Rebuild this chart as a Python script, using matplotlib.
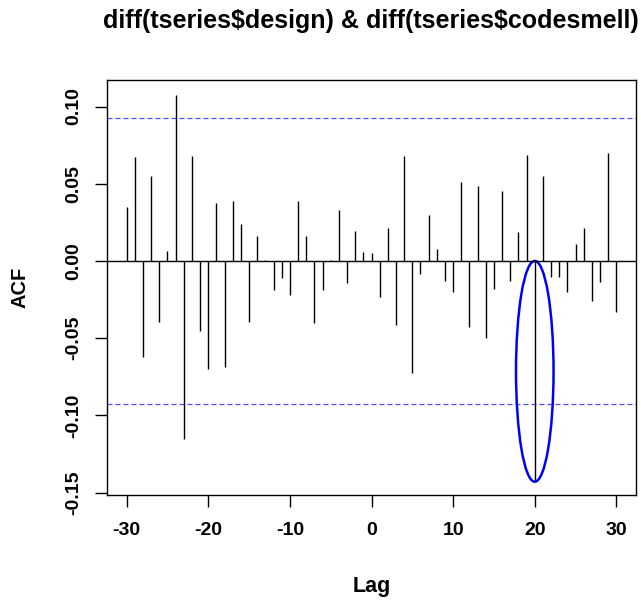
import numpy as np
import matplotlib
matplotlib.use("Agg")
from matplotlib import pyplot as plt
from matplotlib.patches import Ellipse

plt.rcParams["font.family"] = ["Liberation Sans", "DejaVu Sans"]
plt.rcParams["font.weight"] = "bold"
plt.rcParams["axes.unicode_minus"] = False

# cross-correlation values, lags -30..30
lags = np.arange(-30, 31)
acf = [
    0.0348, 0.0671, -0.0624, 0.0551, -0.0397, 0.0065, 0.1077, -0.1155, 0.0682, -0.0451,
    -0.0699, 0.0376, -0.0689, 0.0389, 0.0240, -0.0397, 0.0162, 0.0008, -0.0188, -0.0110,
    -0.0222, 0.0389, 0.0162, -0.0399, -0.0188, 0.0009, 0.0328, -0.0140, 0.0196, 0.0056,
    0.0054, -0.0231, 0.0212, -0.0415, 0.0682, -0.0723, -0.0084, 0.0300, 0.0076, -0.0130,
    -0.0203, 0.0514, -0.0425, 0.0486, -0.0501, -0.0179, 0.0456, -0.0130, 0.0188, 0.0687,
    -0.1425, 0.0548, -0.0101, -0.0101, -0.0203, 0.0110, 0.0216, -0.0257, -0.0134, 0.0697,
    -0.0328,
]
conf = 0.0928

# highlighted lag
mark_lag = 20
mark_center = -0.0715
mark_width = 4.6
mark_height = 0.143

W, H = 641, 600
fig = plt.figure(figsize=(W / 100, H / 100), dpi=100)
ax = fig.add_axes([107 / W, 105 / H, 529 / W, 415 / H])

ax.vlines(lags, 0, acf, color="black", lw=1.0)
ax.axhline(0, color="black", lw=1.0)
for c in (conf, -conf):
    ax.axhline(c, color="#0000ff", lw=0.9, linestyle=(0, (4, 2.4)), alpha=0.7)

ax.add_patch(Ellipse((mark_lag, mark_center), mark_width, mark_height,
                     fill=False, edgecolor="#0000ff", lw=1.8))

ax.set_xlim(-32.4, 32.4)
ax.set_ylim(-0.1516, 0.1172)
ax.set_xticks([-30, -20, -10, 0, 10, 20, 30])
yt = [-0.15, -0.10, -0.05, 0.00, 0.05, 0.10]
ax.set_yticks(yt)
ax.set_yticklabels(["%.2f" % v for v in yt], rotation=90, va="center")
ax.tick_params(direction="out", length=8.6, width=1, labelsize=14)
ax.tick_params(axis="x", pad=11)
ax.tick_params(axis="y", pad=9)
for s in ax.spines.values():
    s.set_linewidth(1.0)

fig.text(370.5 / W, 1 - 28 / H, "diff(tseries\\$design) & diff(tseries\\$codesmell)",
         fontsize=18, fontweight="bold", ha="center", va="baseline")
fig.text(371.5 / W, 1 - 592 / H, "Lag", fontsize=15.5, fontweight="bold",
         ha="center", va="baseline")
fig.text(20 / W, 1 - 287.5 / H, "ACF", fontsize=14.4, fontweight="bold",
         ha="center", va="center", rotation=90)

fig.savefig("out.png", dpi=100)
